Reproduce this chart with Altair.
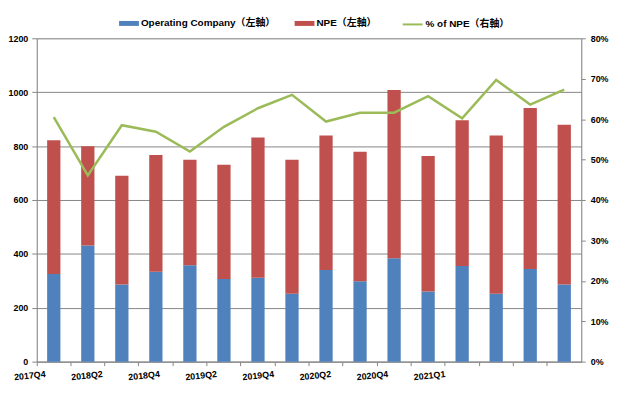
import altair as alt
import pandas as pd

quarters = ['2017Q4', '2018Q1', '2018Q2', '2018Q3', '2018Q4', '2019Q1', '2019Q2', '2019Q3',
            '2019Q4', '2020Q1', '2020Q2', '2020Q3', '2020Q4', '2021Q1', '2021Q2', '2021Q3']
operating = [325, 431, 286, 334, 358, 307, 311, 252, 340, 298, 384, 260, 355, 252, 344, 286]
npe = [497, 368, 404, 433, 391, 424, 521, 497, 499, 481, 624, 503, 541, 587, 597, 593]
pct_npe = [0.605, 0.461, 0.585, 0.569, 0.520, 0.581, 0.627, 0.660,
           0.594, 0.616, 0.616, 0.657, 0.602, 0.697, 0.636, 0.673]
tick_labels = ['2017Q4', '2018Q2', '2018Q4', '2019Q2', '2019Q4', '2020Q2', '2020Q4', '2021Q1']

S_OP = 'Operating Company（左軸）'
S_NPE = 'NPE（左軸）'
S_PCT = '% of NPE（右軸）'

FONT = 'Liberation Sans, Noto Sans CJK TC, sans-serif'
GRID = '#868686'

rows = []
for q, o, n in zip(quarters, operating, npe):
    rows.append({'quarter': q, 'series': S_OP, 'value': o, 'ord': 0})
    rows.append({'quarter': q, 'series': S_NPE, 'value': n, 'ord': 1})
bar_df = pd.DataFrame(rows)
line_df = pd.DataFrame({'quarter': quarters, 'pct': pct_npe, 'series': [S_PCT] * len(quarters)})
lab_df = pd.DataFrame({'lab': tick_labels})

bars = alt.Chart(bar_df).mark_bar(width=alt.RelativeBandSize(0.39)).encode(
    x=alt.X('quarter:N', sort=quarters,
            scale=alt.Scale(type='band', paddingInner=0, paddingOuter=0),
            axis=alt.Axis(orient='bottom', title=None, labels=False, ticks=True,
                          bandPosition=0, tickSize=4, tickColor=GRID,
                          domainColor=GRID, grid=False)),
    y=alt.Y('value:Q', stack='zero',
            scale=alt.Scale(domain=[0, 1200], nice=False),
            axis=alt.Axis(title=None, values=[0, 200, 400, 600, 800, 1000, 1200],
                          format='d',
                          grid=True, gridColor=GRID, gridWidth=1, tickSize=5,
                          tickColor=GRID, domainColor=GRID, labelPadding=4,
                          labelFontSize=9, labelFontWeight='bold', labelColor='black',
                          labelFont=FONT)),
    color=alt.Color('series:N', sort=[S_OP, S_NPE],
                    scale=alt.Scale(domain=[S_OP, S_NPE], range=['#4F81BD', '#C0504D']),
                    legend=alt.Legend(orient='none', legendX=83, legendY=-25,
                                      direction='horizontal', title=None,
                                      symbolType='M-1,-0.25L1,-0.25L1,0.25L-1,0.25Z',
                                      symbolSize=400, symbolStrokeWidth=0,
                                      labelFontSize=10, labelFontWeight='bold',
                                      labelColor='black', labelFont=FONT,
                                      labelOffset=2, columnPadding=19, padding=0)),
    order=alt.Order('ord:Q'),
)

line = alt.Chart(line_df).mark_line(strokeWidth=2.5).encode(
    x=alt.X('quarter:N', sort=quarters, scale=alt.Scale(type='point', padding=0.5), axis=None),
    y=alt.Y('pct:Q', scale=alt.Scale(domain=[0, 0.8], nice=False),
            axis=alt.Axis(orient='right', title=None, format='.0%',
                          values=[0, 0.1, 0.2, 0.3, 0.4, 0.5, 0.6, 0.7, 0.8],
                          grid=False, tickSize=4, tickColor=GRID, domainColor=GRID,
                          labelPadding=5, labelFontSize=9, labelFontWeight='bold',
                          labelColor='black', labelFont=FONT)),
    stroke=alt.Stroke('series:N', scale=alt.Scale(domain=[S_PCT], range=['#9BBB59']),
                      legend=alt.Legend(orient='none', legendX=368, legendY=-25,
                                        direction='horizontal', title=None,
                                        symbolType='stroke', symbolSize=400,
                                        symbolStrokeWidth=2, labelFontSize=10,
                                        labelFontWeight='bold', labelColor='black',
                                        labelFont=FONT, labelOffset=2, padding=0)),
)

labels = alt.Chart(lab_df).mark_point(opacity=0).encode(
    x=alt.X('lab:N', sort=tick_labels,
            scale=alt.Scale(type='point', range=[8, 411], padding=0),
            axis=alt.Axis(orient='bottom', title=None, domain=False, ticks=False,
                          grid=False, labelAngle=354, labelAlign='right',
                          labelBaseline='top', labelPadding=8, labelFontSize=9,
                          labelFontWeight='bold', labelColor='black', labelFont=FONT)),
)

chart = alt.layer(bars, line, labels).resolve_scale(
    x='independent', y='independent'
).properties(
    width=549, height=326,
    autosize='none',
    padding={'left': 29, 'top': 29, 'right': 32, 'bottom': 24},
).configure_view(
    fill='#F2F2F2', stroke=GRID, strokeWidth=1
).configure(font=FONT)

chart.save('out.html', embed_options={'renderer': 'svg', 'actions': False})
